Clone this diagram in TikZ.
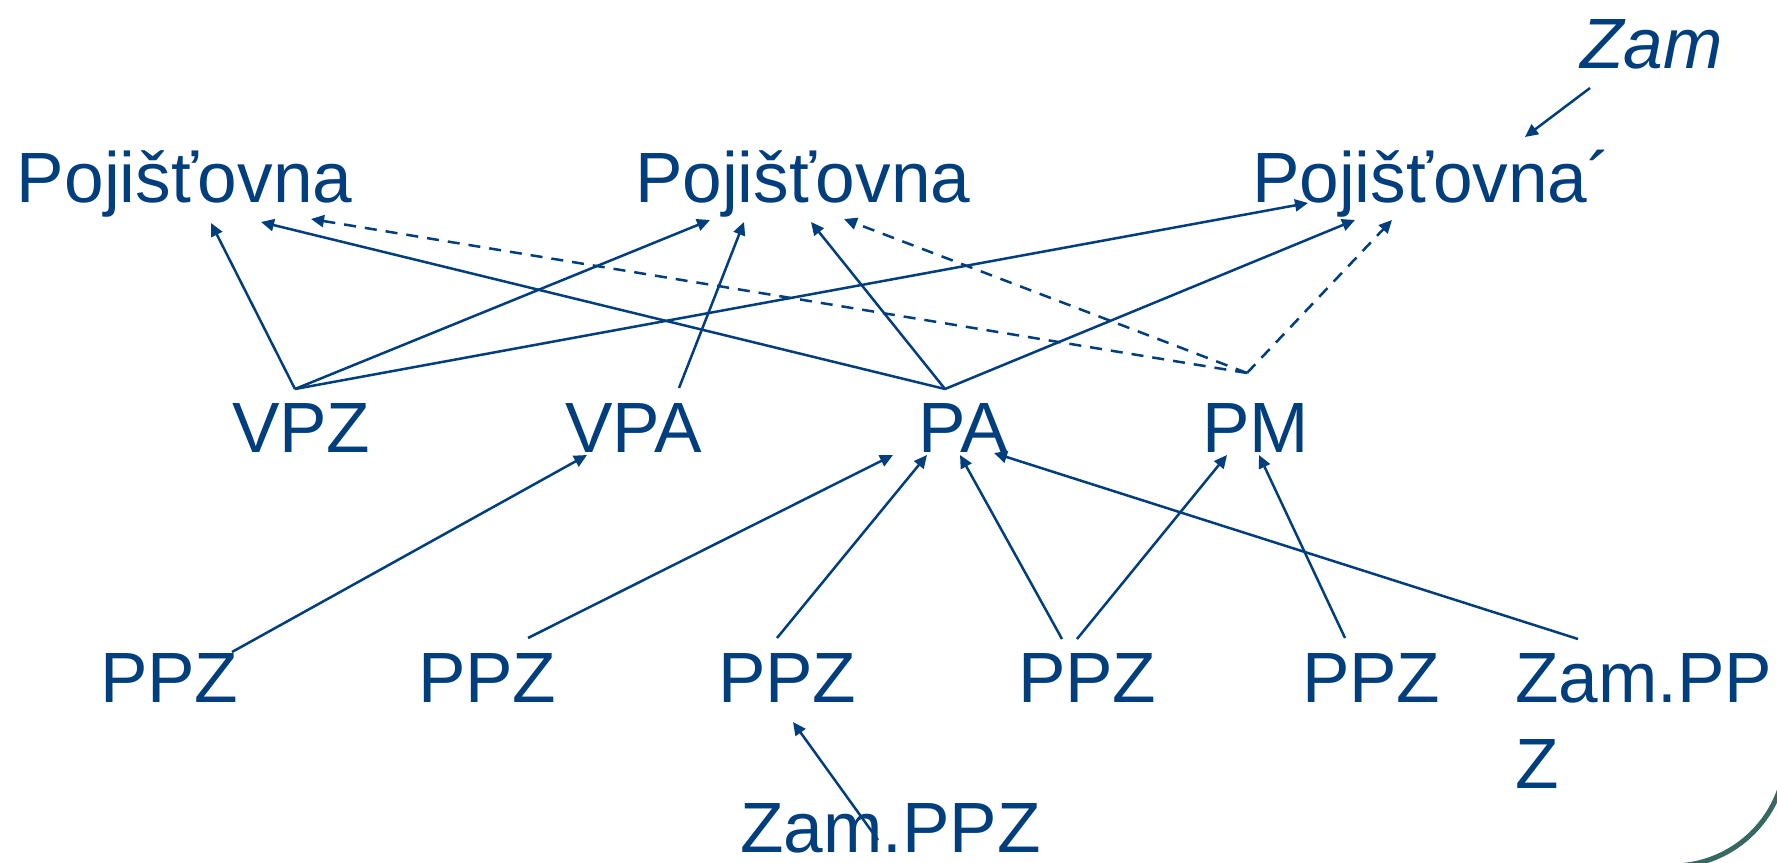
\documentclass[tikz,border=0pt]{standalone}
\usepackage{fontspec}
\setmainfont{Liberation Sans}
\usetikzlibrary{arrows.meta}
\definecolor{navy}{RGB}{0,62,126}
\definecolor{tealarc}{RGB}{55,104,97}
\begin{document}
\begin{tikzpicture}[x=0.5pt,y=-0.5pt,
  lbl/.style={anchor=base west, inner sep=0pt, outer sep=0pt, text=navy,
    font=\fontsize{35.6pt}{43pt}\selectfont},
  link/.style={draw=navy, line width=1.25pt, -{Triangle[length=6.5pt,width=6pt]}},
  dlink/.style={link, dash pattern=on 6pt off 4.5pt}]
\useasboundingbox (0,0) rectangle (1777,862);
\clip (0,0) rectangle (1777,862);
\fill[white] (0,0) rectangle (1777,862);

% labels
\node[lbl] (P1) at (17,202) {Pojišťovna};
\node[lbl] (P2) at (635,202) {Pojišťovna};
\node[lbl] (P3) at (1252,202) {Pojišťovna´};
\node[lbl, font=\fontsize{35.6pt}{43pt}\selectfont\itshape] (Zam) at (1580,68) {Zam};
\node[lbl] (VPZ) at (232,452) {VPZ};
\node[lbl] (VPA) at (565,452) {VPA};
\node[lbl] (PA) at (918,452) {PA};
\node[lbl] (PM) at (1202,452) {PM};
\node[lbl] (PPZa) at (100,702) {PPZ};
\node[lbl] (PPZb) at (418,702) {PPZ};
\node[lbl] (PPZc) at (718,702) {PPZ};
\node[lbl] (PPZd) at (1018,702) {PPZ};
\node[lbl] (PPZe) at (1302,702) {PPZ};
\node[lbl, align=left] (ZPr) at (1515,788) {Zam.PP\\Z};
\node[lbl, text depth=0pt] (ZPb) at (740,852) {Zam.PPZ};

% connector end points
\coordinate (vpzS) at ([shift={(63,-63)}]VPZ.base west);
\coordinate (vpaS) at ([shift={(114,-64)}]VPA.base west);
\coordinate (vpaT) at ([shift={(22,3)}]VPA.base west);
\coordinate (paS) at ([shift={(27,-63)}]PA.base west);
\coordinate (paTb) at ([shift={(-25,3)}]PA.base west);
\coordinate (paTc) at ([shift={(9,3)}]PA.base west);
\coordinate (paTd) at ([shift={(42,3)}]PA.base west);
\coordinate (paTz) at ([shift={(76,1)}]PA.base west);
\coordinate (pmS) at ([shift={(45,-79)}]PM.base west);
\coordinate (pmTd) at ([shift={(25,3)}]PM.base west);
\coordinate (pmTe) at ([shift={(57,3)}]PM.base west);
\coordinate (p1a) at ([shift={(194,21)}]P1.base west);
\coordinate (p1b) at ([shift={(244,20)}]P1.base west);
\coordinate (p1c) at ([shift={(294,17)}]P1.base west);
\coordinate (p2a) at ([shift={(75,18)}]P2.base west);
\coordinate (p2b) at ([shift={(109,20)}]P2.base west);
\coordinate (p2c) at ([shift={(176,20)}]P2.base west);
\coordinate (p2d) at ([shift={(209,17)}]P2.base west);
\coordinate (p3a) at ([shift={(56,1)}]P3.base west);
\coordinate (p3b) at ([shift={(103,18)}]P3.base west);
\coordinate (p3c) at ([shift={(140,18)}]P3.base west);
\coordinate (p3z) at ([shift={(273,-65)}]P3.base west);
\coordinate (zamS) at ([shift={(10,20)}]Zam.base west);
\coordinate (ppzaS) at ([shift={(132,-50)}]PPZa.base west);
\coordinate (ppzbS) at ([shift={(110,-64)}]PPZb.base west);
\coordinate (ppzcS) at ([shift={(59,-64)}]PPZc.base west);
\coordinate (ppzcT) at ([shift={(75,20)}]PPZc.base west);
\coordinate (ppzdS) at ([shift={(44,-63)}]PPZd.base west);
\coordinate (ppzdS2) at ([shift={(59,-63)}]PPZd.base west);
\coordinate (ppzeS) at ([shift={(43,-64)}]PPZe.base west);
\coordinate (zprS) at ([shift={(63,-149)}]ZPr.base west);
\coordinate (zpbS) at ([shift={(138,-12)}]ZPb.base west);

% upper connectors
\draw[link] (vpzS) -- (p1a);
\draw[link] (vpzS) -- (p2a);
\draw[link] (vpzS) -- (p3a);
\draw[link] (vpaS) -- (p2b);
\draw[link] (paS) -- (p1b);
\draw[link] (paS) -- (p2c);
\draw[link] (paS) -- (p3b);
\draw[dlink] (pmS) -- (p1c);
\draw[dlink] (pmS) -- (p2d);
\draw[dlink] (pmS) -- (p3c);
\draw[link] (zamS) -- (p3z);

% lower connectors
\draw[link] (ppzaS) -- (vpaT);
\draw[link] (ppzbS) -- (paTb);
\draw[link] (ppzcS) -- (paTc);
\draw[link] (ppzdS) -- (paTd);
\draw[link] (ppzdS2) -- (pmTd);
\draw[link] (ppzeS) -- (pmTe);
\draw[link] (zprS) -- (paTz);
\draw[link] (zpbS) -- (ppzcT);

% decorative arc
\draw[tealarc, line width=2.5pt] (1672,752) ++(5:114) arc[start angle=5, end angle=95, radius=114];
\end{tikzpicture}
\end{document}
